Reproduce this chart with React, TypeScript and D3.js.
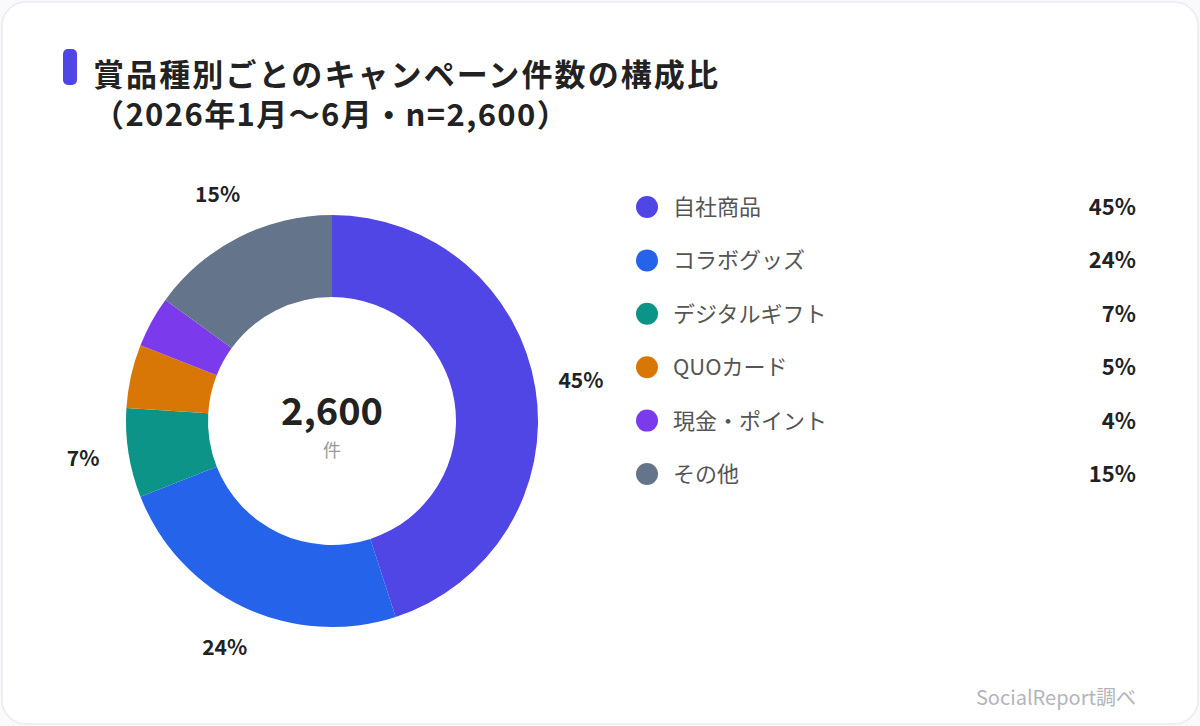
import * as d3 from "d3";
import { useEffect } from "react";

const categories = ["自社商品", "コラボグッズ", "デジタルギフト", "QUOカード", "現金・ポイント", "その他"];
const shares = [45, 24, 7, 5, 4, 15];
const colors = ["#4f46e5", "#2563eb", "#0d9488", "#d97706", "#7c3aed", "#64748b"];
const total = 2600;

const W = 1200;
const H = 726;
const FONT = "'Noto Sans CJK JP', 'Noto Sans', sans-serif";

const App = () => {
  useEffect(() => {
    document.body.style.margin = "0";
  }, []);

  const cx = 332;
  const cy = 421;
  const outerR = 206;
  const innerR = 124;
  const labelR = 252;

  const pie = d3
    .pie<number>()
    .sort(null)
    .value((d) => d);
  const arcs = pie(shares);
  const arc = d3.arc<d3.PieArcDatum<number>>().innerRadius(innerR).outerRadius(outerR);
  const labelArc = d3.arc<d3.PieArcDatum<number>>().innerRadius(labelR).outerRadius(labelR);

  const legendY = d3.scalePoint<string>().domain(categories).range([207, 474]);
  const fmt = d3.format(",");

  return (
    <svg width={W} height={H} style={{ display: "block", fontFamily: FONT }}>
      <rect x={0} y={0} width={W} height={H} fill="#fafafc" />
      <rect x={2} y={2} width={W - 4} height={H - 4} rx={24} fill="#ffffff" stroke="#ebebf0" strokeWidth={1.5} />

      {/* title, two lines in one text */}
      <rect x={63} y={49} width={14} height={36} rx={5} fill="#4f46e5" />
      <text fontSize={31} fontWeight={700} fill="#222222">
        <tspan x={93} y={86} letterSpacing={2.1}>
          賞品種別ごとのキャンペーン件数の構成比
        </tspan>
        <tspan x={93} y={126} letterSpacing={1.4}>
          （2026年1月〜6月・n=2,600）
        </tspan>
      </text>

      {/* donut */}
      <g transform={`translate(${cx},${cy})`}>
        {arcs.map((a, i) => (
          <path key={i} d={arc(a) ?? ""} fill={colors[i]} />
        ))}
        {arcs
          .filter((a) => a.data >= 7)
          .map((a, i) => {
            const [lx, ly] = labelArc.centroid(a);
            return (
              <text
                key={i}
                x={lx}
                y={ly - 3}
                textAnchor="middle"
                dominantBaseline="central"
                fontSize={21}
                fontWeight={700}
                fill="#222222"
              >
                {a.data}%
              </text>
            );
          })}
        <text y={4} textAnchor="middle" fontSize={38} fontWeight={700} fill="#222222">
          {fmt(total)}
        </text>
        <text y={36} textAnchor="middle" fontSize={18} fill="#999999">
          件
        </text>
      </g>

      {/* legend */}
      {categories.map((c, i) => {
        const y = legendY(c) ?? 0;
        return (
          <g key={c}>
            <circle cx={647} cy={y} r={11} fill={colors[i]} />
            <text x={673} y={y - 2} dominantBaseline="central" fontSize={22} fill="#555555">
              {c}
            </text>
            <text x={1136} y={y - 2} dominantBaseline="central" textAnchor="end" fontSize={22} fontWeight={700} fill="#222222">
              {shares[i]}%
            </text>
          </g>
        );
      })}

      <text x={1136} y={705} textAnchor="end" fontSize={20} fill="#b4b4bc">
        SocialReport調べ
      </text>
    </svg>
  );
};

export default App;
